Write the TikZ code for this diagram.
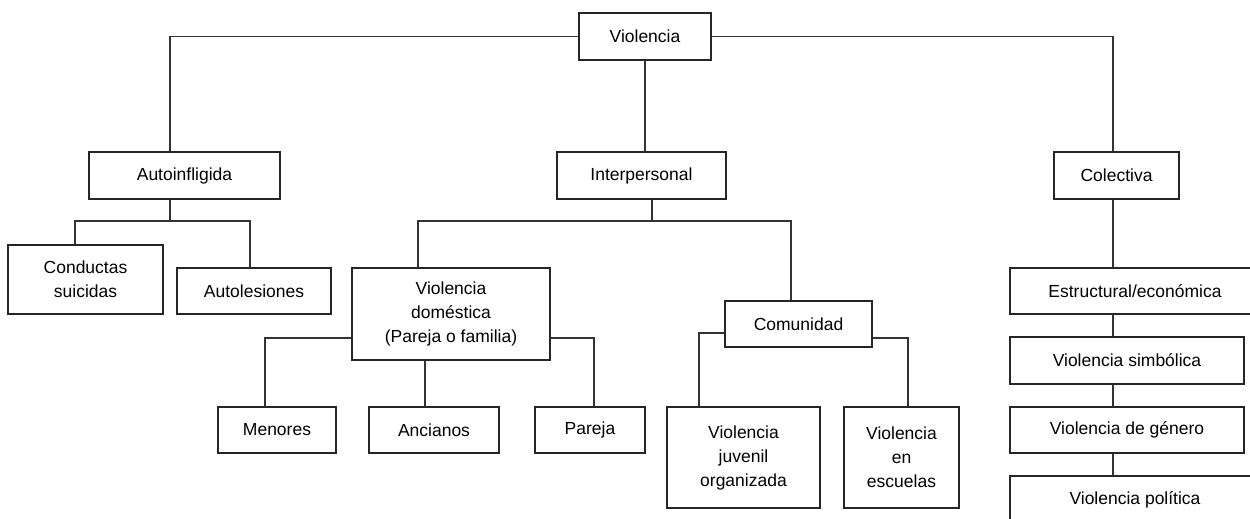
\documentclass[tikz,border=0pt]{standalone}
\usepackage{fontspec}
\setmainfont{Liberation Sans}
\begin{document}
\begin{tikzpicture}[x=1pt,y=-1pt,
  box/.style={draw=black!85, line width=1.1pt, fill=white, inner sep=0pt, align=center,
    font=\fontsize{17.5}{24}\selectfont},
  conn/.style={draw=black!80, line width=1.1pt}]
\path[use as bounding box] (0,0) rectangle (1250,519);
\clip (0,0) rectangle (1250,519);
% nodes
\node[box, minimum width=132pt, minimum height=47pt] (viol) at (645,36.5) {Violencia};
\node[box, minimum width=191pt, minimum height=47pt] (auto) at (184.5,175.5) {Autoinfligida};
\node[box, minimum width=169pt, minimum height=47pt] (inter) at (641.5,175.5) {Interpersonal};
\node[box, minimum width=125pt, minimum height=47pt] (colec) at (1116.5,175.5) {Colectiva};
\node[box, minimum width=155pt, minimum height=69pt] (cond) at (85.5,279.5) {Conductas\\suicidas};
\node[box, minimum width=154pt, minimum height=46pt] (autol) at (254,291) {Autolesiones};
\node[box, minimum width=198pt, minimum height=92pt] (vd) at (451,314) {Violencia\\doméstica\\(Pareja o familia)};
\node[box, minimum width=118pt, minimum height=46pt] (men) at (277,430) {Menores};
\node[box, minimum width=130pt, minimum height=46pt] (anc) at (434,430) {Ancianos};
\node[box, minimum width=110pt, minimum height=46pt] (par) at (590,430) {Pareja};
\node[box, minimum width=147pt, minimum height=46pt] (com) at (798.5,324) {Comunidad};
\node[box, minimum width=153pt, minimum height=101pt] (vjo) at (743.5,457.5) {Violencia\\juvenil\\organizada};
\node[box, minimum width=115pt, minimum height=101pt] (ve) at (901.5,457.5) {Violencia\\en\\escuelas};
\node[box, minimum width=250pt, minimum height=46pt] (estr) at (1135,291) {Estructural/económica};
\node[box, minimum width=234pt, minimum height=47pt] (simb) at (1127,360.5) {Violencia simbólica};
\node[box, minimum width=234pt, minimum height=46pt] (gen) at (1127,430) {Violencia de género};
\node[box, minimum width=250pt, minimum height=48pt] (pol) at (1135,500) {Violencia política};
% junction points
\coordinate (aj) at (170,221);
\coordinate (ij) at (652,221);
% connectors
\draw[conn] (viol.west) -| ([xshift=-14.5pt]auto.north);
\draw[conn] (viol.east) -| ([xshift=-3.5pt]colec.north);
\draw[conn] (viol.south) -- (viol.south |- inter.north);
\draw[conn] ([xshift=-14.5pt]auto.south) -- (aj);
\draw[conn] ([xshift=-10.5pt]cond.north) |- (aj) -| ([xshift=-4pt]autol.north);
\draw[conn] ([xshift=10.5pt]inter.south) -- (ij);
\draw[conn] ([xshift=-33pt]vd.north) |- (ij) -| ([xshift=-7.5pt]com.north);
\draw[conn] ([yshift=-24pt]vd.west) -| ([xshift=-12pt]men.north);
\draw[conn] ([xshift=-26pt]vd.south) -- ([xshift=-26pt]vd.south |- anc.north);
\draw[conn] ([yshift=-24pt]vd.east) -| ([xshift=4pt]par.north);
\draw[conn] ([yshift=-9pt]com.west) -| ([xshift=-44.5pt]vjo.north);
\draw[conn] ([yshift=-14pt]com.east) -| ([xshift=6.5pt]ve.north);
\draw[conn] ([xshift=-3.5pt]colec.south) -- ([xshift=-3.5pt]colec.south |- estr.north);
\draw[conn] ([xshift=-3.5pt]colec.south |- estr.south) -- ([xshift=-3.5pt]colec.south |- simb.north);
\draw[conn] ([xshift=-3.5pt]colec.south |- simb.south) -- ([xshift=-3.5pt]colec.south |- gen.north);
\draw[conn] ([xshift=-3.5pt]colec.south |- gen.south) -- ([xshift=-3.5pt]colec.south |- pol.north);
\end{tikzpicture}
\end{document}
